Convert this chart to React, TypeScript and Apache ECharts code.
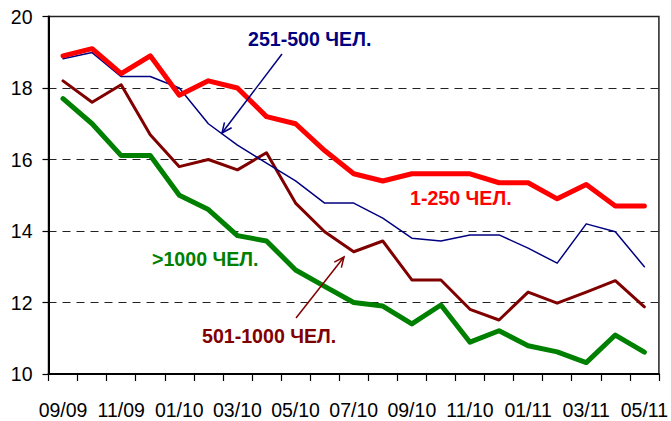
import React, { useEffect, useRef } from "react";
import * as echarts from "echarts";

const months = [
  "09/09", "10/09", "11/09", "12/09", "01/10", "02/10", "03/10", "04/10", "05/10", "06/10", "07/10",
  "08/10", "09/10", "10/10", "11/10", "12/10", "01/11", "02/11", "03/11", "04/11", "05/11",
];
const s1to250 = [18.9, 19.1, 18.4, 18.9, 17.8, 18.2, 18.0, 17.2, 17.0, 16.25, 15.6, 15.4, 15.6, 15.6, 15.6, 15.35, 15.35, 14.9, 15.3, 14.7, 14.7];
const s251to500 = [18.82, 18.99, 18.32, 18.32, 18.0, 17.0, 16.4, 15.9, 15.4, 14.78, 14.78, 14.36, 13.8, 13.72, 13.89, 13.89, 13.52, 13.1, 14.2, 13.98, 13.0];
const s501to1000 = [18.2, 17.6, 18.09, 16.69, 15.8, 16.0, 15.71, 16.19, 14.78, 13.98, 13.42, 13.72, 12.63, 12.63, 11.81, 11.51, 12.29, 11.98, 12.29, 12.61, 11.88];
const sOver1000 = [17.7, 17.0, 16.11, 16.11, 15.0, 14.6, 13.87, 13.72, 12.91, 12.45, 12.0, 11.9, 11.4, 11.93, 10.89, 11.21, 10.79, 10.62, 10.32, 11.09, 10.61];

const FONT = "'Liberation Sans', Arial, sans-serif";

function arrow(x1: number, y1: number, x2: number, y2: number, color: string) {
  const dx = x2 - x1, dy = y2 - y1;
  const len = Math.sqrt(dx * dx + dy * dy);
  const ux = dx / len, uy = dy / len;
  const hl = 10, hw = 4.5;
  const bx = x2 - hl * ux, by = y2 - hl * uy;
  const px = -uy, py = ux;
  return [
    { type: "line", shape: { x1, y1, x2, y2 }, style: { stroke: color, lineWidth: 1.5 }, z: 100 },
    {
      type: "polyline",
      shape: { points: [[bx + hw * px, by + hw * py], [x2, y2], [bx - hw * px, by - hw * py]] },
      style: { stroke: color, lineWidth: 1.5, fill: null },
      z: 100,
    },
  ];
}

function label(text: string, x: number, y: number, color: string) {
  return {
    type: "text",
    x,
    y,
    z: 100,
    style: { text, fill: color, font: `bold 19.6px ${FONT}`, textVerticalAlign: "middle", textAlign: "left" },
  };
}

export default function App() {
  const ref = useRef<HTMLDivElement>(null);
  useEffect(() => {
    if (!ref.current) return;
    const chart = echarts.init(ref.current, null, { renderer: "svg" });
    const mk = (name: string, data: number[], color: string, width: number) => ({
      name,
      type: "line",
      data,
      symbol: "none",
      lineStyle: { color, width, cap: "round", join: "round" },
      itemStyle: { color },
    });
    chart.setOption({
      animation: false,
      backgroundColor: "#fff",
      textStyle: { fontFamily: FONT },
      grid: { left: 48.5, top: 16.5, right: 10, bottom: 47, show: true, borderColor: "#222", borderWidth: 1.5 },
      xAxis: {
        type: "category",
        data: months,
        boundaryGap: true,
        axisLine: { lineStyle: { color: "#000", width: 2 } },
        axisTick: { show: true, interval: 0, length: 7, lineStyle: { color: "#000", width: 1.2 } },
        axisLabel: { interval: 1, color: "#000", fontSize: 19.5, margin: 26, fontFamily: FONT },
        splitLine: { show: false },
      },
      yAxis: {
        type: "value",
        min: 10,
        max: 20,
        interval: 2,
        axisLine: { show: true, lineStyle: { color: "#000", width: 2 } },
        axisTick: { show: true, length: 6, lineStyle: { color: "#000", width: 1.2 } },
        axisLabel: { color: "#000", fontSize: 19.5, margin: 16, fontFamily: FONT },
        splitLine: { show: true, lineStyle: { color: "#222", width: 1, type: [8, 6] } },
      },
      series: [
        mk(">1000 ЧЕЛ.", sOver1000, "#008000", 5),
        mk("501-1000 ЧЕЛ.", s501to1000, "#800000", 3),
        mk("251-500 ЧЕЛ.", s251to500, "#000080", 1.5),
        mk("1-250 ЧЕЛ.", s1to250, "#ff0000", 5),
      ],
      graphic: [
        label("251-500 ЧЕЛ.", 248, 39, "#000080"),
        label("1-250 ЧЕЛ.", 410, 198, "#ff0000"),
        label(">1000 ЧЕЛ.", 152, 259, "#008000"),
        label("501-1000 ЧЕЛ.", 202, 336, "#800000"),
        ...arrow(282, 54, 222, 133, "#000080"),
        ...arrow(296, 318, 344, 257, "#800000"),
      ],
    });
    return () => chart.dispose();
  }, []);
  return <div ref={ref} style={{ position: "absolute", left: 0, top: 0, width: 671, height: 421 }} />;
}
